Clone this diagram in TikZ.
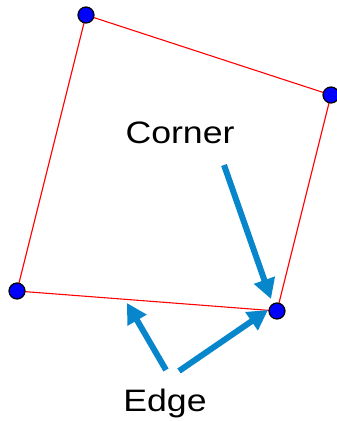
\documentclass[tikz,border=0pt]{standalone}
\usepackage{fontspec}
\setmainfont{Liberation Sans}
\usetikzlibrary{arrows.meta}
\definecolor{arrowblue}{RGB}{8,134,204}
\tikzset{
  x=1pt, y=-1pt,
  corner/.style={circle, fill=blue, draw=black, line width=1.2pt, minimum size=16pt, inner sep=0pt},
  edgeline/.style={red, line width=1.1pt},
  pointer/.style={arrowblue, line width=6pt, -{Triangle[length=20pt,width=21pt]}},
  labeltext/.style={font=\fontsize{31}{31}\selectfont, inner sep=0pt}
}
\begin{document}
\begin{tikzpicture}
\useasboundingbox (0,0) rectangle (337,421);
\coordinate (A) at (86,15);
\coordinate (B) at (331,95);
\coordinate (C) at (277,311);
\coordinate (D) at (17,291);
\draw[edgeline] (A) -- (B) -- (C) -- (D) -- cycle;
\node[corner] (a) at (A) {};
\node[corner] (b) at (B) {};
\node[corner] (c) at (C) {};
\node[corner] (d) at (D) {};
\node[labeltext] (corner) at (180,133) {\scalebox{1.15}[1]{Corner}};
\node[labeltext] (edge) at (165,403) {\scalebox{1.15}[1]{Edge}};
\coordinate (cs) at (224,165);
\coordinate (ct) at (271,299);
\coordinate (e1s) at (166,370);
\coordinate (e1t) at (127,303);
\coordinate (e2s) at (179,371);
\coordinate (e2t) at (268,310);
\draw[pointer] (cs) -- (ct);
\draw[pointer] (e1s) -- (e1t);
\draw[pointer] (e2s) -- (e2t);
\end{tikzpicture}
\end{document}
